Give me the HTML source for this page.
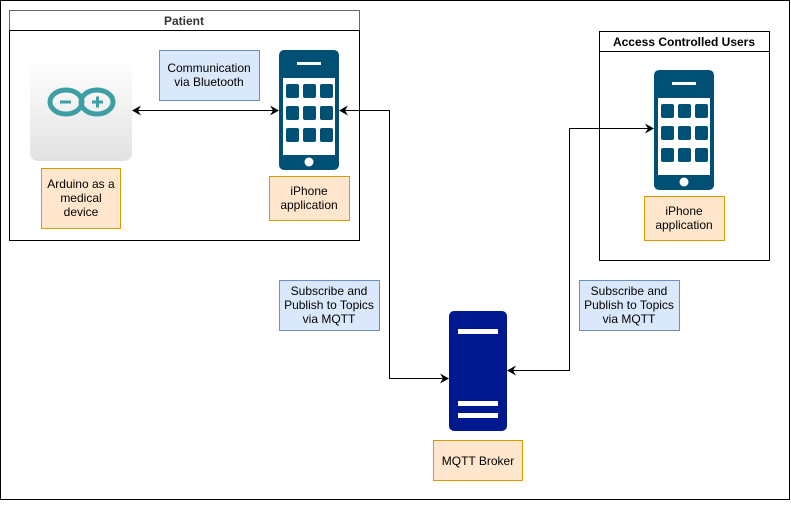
<!DOCTYPE html>
<html><head><style>
body{margin:0;background:#fff;}
svg text{font-family:"Liberation Sans",Arial,sans-serif;font-size:12px;fill:#000;}
</style></head><body>
<svg width="791" height="501" xmlns="http://www.w3.org/2000/svg">
<defs>
<marker id="a" markerWidth="10" markerHeight="10" refX="8" refY="5" orient="auto" markerUnits="userSpaceOnUse"><path d="M0,0 L9,5 L0,10 L3,5 Z" fill="#000"/></marker>
<marker id="s" markerWidth="10" markerHeight="10" refX="1" refY="5" orient="auto" markerUnits="userSpaceOnUse"><path d="M9,0 L0,5 L9,10 L6,5 Z" fill="#000"/></marker>
<linearGradient id="g" x1="0" y1="0" x2="0" y2="1"><stop offset="0" stop-color="#fff"/><stop offset="1" stop-color="#e2e2e2"/></linearGradient>
<g id="ph">
<rect x="0" y="0" width="60" height="120" rx="5" fill="#005073"/>
<rect x="18" y="12" width="24" height="3" fill="#fff"/>
<rect x="4" y="28" width="52" height="77" fill="#fff"/>
<g fill="#005073">
<rect x="7" y="34" width="13" height="14" rx="2"/><rect x="24" y="34" width="13" height="14" rx="2"/><rect x="41" y="34" width="13" height="14" rx="2"/>
<rect x="7" y="56" width="13" height="14" rx="2"/><rect x="24" y="56" width="13" height="14" rx="2"/><rect x="41" y="56" width="13" height="14" rx="2"/>
<rect x="7" y="78" width="13" height="14" rx="2"/><rect x="24" y="78" width="13" height="14" rx="2"/><rect x="41" y="78" width="13" height="14" rx="2"/>
</g>
<circle cx="30" cy="112" r="4.5" fill="#fff"/>
</g>
</defs>
<rect x="0.5" y="0.5" width="789" height="499" fill="#fff" stroke="#000"/>
<!-- Patient -->
<rect x="9.5" y="10.5" width="350" height="20" fill="#fff" stroke="#666"/>
<text x="184" y="25" text-anchor="middle" font-weight="bold" style="fill:#333">Patient</text>
<rect x="9.5" y="30.5" width="350" height="210" fill="#fff" stroke="#000"/>
<rect x="30" y="60" width="102" height="101" rx="8" fill="url(#g)"/>
<g fill="none" stroke="#3d9ea3" stroke-width="5">
<ellipse cx="66" cy="102" rx="16" ry="12"/><ellipse cx="97" cy="102" rx="16" ry="12"/>
</g>
<rect x="60" y="100.5" width="11" height="3" fill="#3d9ea3"/>
<rect x="92" y="100.5" width="11" height="3" fill="#3d9ea3"/><rect x="96" y="96.5" width="3" height="11" fill="#3d9ea3"/>
<rect x="41.5" y="168.5" width="79" height="60" fill="#ffe6cc" stroke="#d79b00"/>
<text x="81" y="188" text-anchor="middle">Arduino as a</text>
<text x="81" y="202" text-anchor="middle">medical</text>
<text x="81" y="216" text-anchor="middle">device</text>
<rect x="159.5" y="50.5" width="100" height="50" fill="#dae8fc" stroke="#6c8ebf"/>
<text x="209" y="72" text-anchor="middle">Communication</text>
<text x="209" y="86" text-anchor="middle">via Bluetooth</text>
<use href="#ph" x="279" y="50"/>
<rect x="269.5" y="176.5" width="80" height="44" fill="#ffe6cc" stroke="#d79b00"/>
<text x="309" y="195" text-anchor="middle">iPhone</text>
<text x="309" y="209" text-anchor="middle">application</text>
<line x1="133" y1="110.5" x2="278" y2="110.5" stroke="#000" marker-start="url(#s)" marker-end="url(#a)"/>
<!-- Access -->
<rect x="599.5" y="31.5" width="170" height="20" fill="#fff" stroke="#000"/>
<text x="684" y="46" text-anchor="middle" font-weight="bold">Access Controlled Users</text>
<rect x="599.5" y="51.5" width="170" height="209" fill="#fff" stroke="#000"/>
<use href="#ph" x="654" y="70"/>
<rect x="644.5" y="196.5" width="80" height="44" fill="#ffe6cc" stroke="#d79b00"/>
<text x="684" y="215" text-anchor="middle">iPhone</text>
<text x="684" y="229" text-anchor="middle">application</text>
<!-- server -->
<rect x="449" y="311" width="58" height="120" rx="5" fill="#00188d"/>
<rect x="458" y="329" width="40" height="5" fill="#fff"/>
<rect x="458" y="401" width="40" height="5" fill="#fff"/>
<rect x="458" y="413" width="40" height="5" fill="#fff"/>
<rect x="433.5" y="440.5" width="89" height="40" fill="#ffe6cc" stroke="#d79b00"/>
<text x="478" y="465" text-anchor="middle">MQTT Broker</text>
<rect x="279.5" y="280.5" width="100" height="50" fill="#dae8fc" stroke="#6c8ebf"/>
<text x="329" y="295" text-anchor="middle">Subscribe and</text>
<text x="329" y="309" text-anchor="middle">Publish to Topics</text>
<text x="329" y="323" text-anchor="middle">via MQTT</text>
<rect x="579.5" y="280.5" width="100" height="50" fill="#dae8fc" stroke="#6c8ebf"/>
<text x="629" y="295" text-anchor="middle">Subscribe and</text>
<text x="629" y="309" text-anchor="middle">Publish to Topics</text>
<text x="629" y="323" text-anchor="middle">via MQTT</text>
<polyline points="340,110.5 389.5,110.5 389.5,378.5 448,378.5" fill="none" stroke="#000" marker-start="url(#s)" marker-end="url(#a)"/>
<polyline points="508,370.5 569.5,370.5 569.5,128.5 653,128.5" fill="none" stroke="#000" marker-start="url(#s)" marker-end="url(#a)"/>
</svg>
</body></html>
